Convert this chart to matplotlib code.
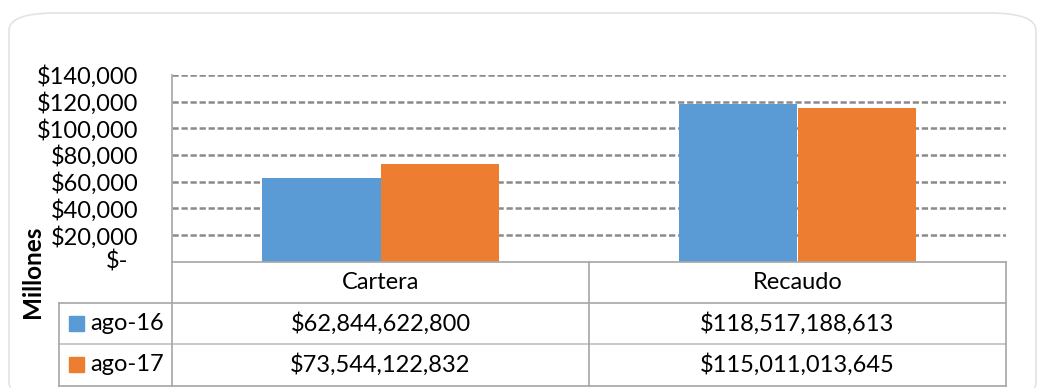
import matplotlib.pyplot as plt
from matplotlib.patches import FancyBboxPatch, Rectangle
from matplotlib.ticker import FuncFormatter

plt.rcParams['font.family'] = ['Lato', 'DejaVu Sans']
plt.rcParams['lines.scale_dashes'] = False

# ---data (pesos)
categories = ['Cartera', 'Recaudo']
series = ['ago-16', 'ago-17']
ago16 = [62844622800, 118517188613]
ago17 = [73544122832, 115011013645]
colors = ['#5B9BD5', '#ED7D31']
yticks = [0, 20000, 40000, 60000, 80000, 100000, 120000, 140000]

W, H = 1038, 388
fig = plt.figure(figsize=(W / 100, H / 100), dpi=100)


def fx(px):
    return px / W


def fy(py):
    return 1 - py / H


# rounded chart border
fig.patches.append(FancyBboxPatch((fx(9), fy(400)), fx(1027), fy(13) - fy(400),
                                  boxstyle='round,pad=0,rounding_size=0.045',
                                  transform=fig.transFigure, fc='white',
                                  ec='#E3E3E3', lw=1.2, zorder=-5))

# ---bar chart (values in millions)
L, R, T, B = 172, 1006, 75, 261.7
FS = 17
ax = fig.add_axes([fx(L), fy(B), fx(R) - fx(L), fy(T) - fy(B)])
ax.patch.set_alpha(0)
width = 0.285
x = range(len(categories))
vals = [ago16, ago17]
for k, (s, c) in enumerate(zip(vals, colors)):
    off = (k - 0.5) * width
    ax.bar([i + off for i in x], [v / 1e6 for v in s], width, color=c, zorder=3)

ax.set_xlim(-0.5, 1.5)
ax.set_ylim(0, 140000)
ax.set_yticks(yticks)
ax.yaxis.set_major_formatter(FuncFormatter(lambda v, p: '' if v == 0 else '${:,.0f}'.format(v)))
ax.tick_params(axis='y', length=0, pad=24, labelsize=FS)
ax.set_xticks([])
for y in yticks[1:]:
    ax.axhline(y, color='#8A8A8A', lw=1.8, ls=(0, (4.5, 2.0)), zorder=1)
for sp in ['top', 'right', 'bottom']:
    ax.spines[sp].set_visible(False)
ax.spines['left'].set_color('#A6A6A6')
ax.spines['left'].set_linewidth(1.2)
fig.text(fx(128), fy(B), '$-', ha='right', va='center', fontsize=FS)

fig.text(fx(33), fy(272), 'Millones', rotation=90, ha='center', va='center',
         fontsize=17.5, fontweight='bold')

# ---data table under the bars
TL, TR, r0, r1, r2, r3 = 59, 1006, 261.7, 302.7, 344, 385.5
mid = (L + R) / 2
tab = fig.add_axes([fx(TL), fy(r3), fx(TR) - fx(TL), fy(r0) - fy(r3)])
tab.set_xlim(TL, TR)
tab.set_ylim(r3, r0)
tab.axis('off')
lc, lw = '#A6A6A6', 1.2
tab.plot([L, TR], [r0, r0], color=lc, lw=lw, clip_on=False)
tab.plot([TL, TR], [r1, r1], color=lc, lw=lw, clip_on=False)
tab.plot([TL, TR], [r2, r2], color='#BFBFBF', lw=lw, clip_on=False)
tab.plot([TL, TR], [r3, r3], color=lc, lw=lw, clip_on=False)
tab.plot([TL, TL], [r1, r3], color=lc, lw=lw, clip_on=False)
tab.plot([L, L], [r0, r3], color=lc, lw=lw, clip_on=False)
tab.plot([mid, mid], [r0, r3], color=lc, lw=lw, clip_on=False)
tab.plot([TR, TR], [r0, r3], color=lc, lw=lw, clip_on=False)

centers = [(L + mid) / 2, (mid + R) / 2]
for cx, name in zip(centers, categories):
    tab.text(cx, (r0 + r1) / 2, name, ha='center', va='center', fontsize=FS)
rows = [(r1, r2), (r2, r3)]
for (ya, yb), name, s, c in zip(rows, series, vals, colors):
    yc = (ya + yb) / 2
    tab.add_patch(Rectangle((69, yc - 7.5), 15, 15, color=c, clip_on=False))
    tab.text(90, yc, name, ha='left', va='center', fontsize=FS)
    for cx, v in zip(centers, s):
        tab.text(cx, yc, '${:,.0f}'.format(v), ha='center', va='center', fontsize=FS)

fig.savefig('out.png', dpi=100)
